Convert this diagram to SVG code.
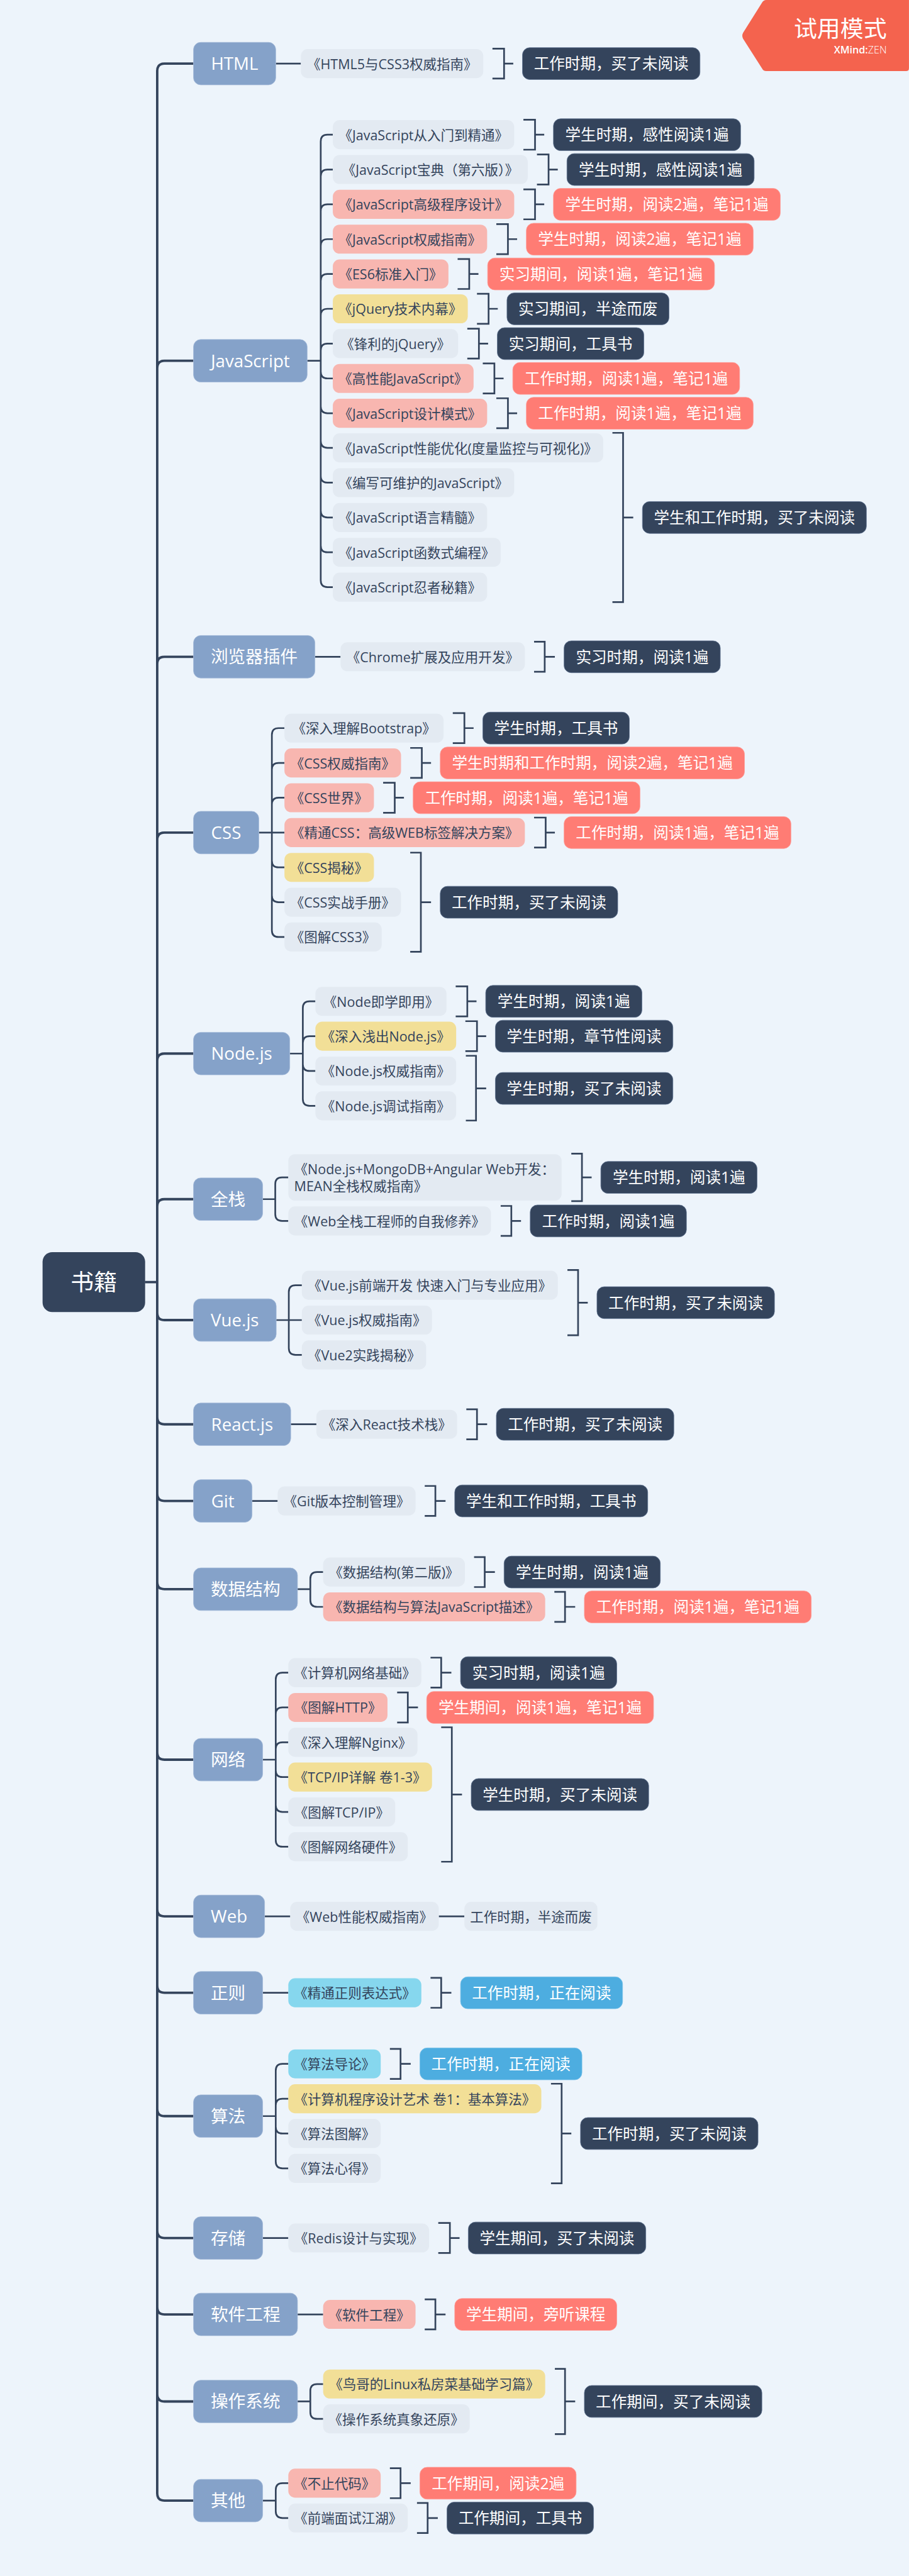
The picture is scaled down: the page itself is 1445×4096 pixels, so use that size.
<svg xmlns="http://www.w3.org/2000/svg" width="1445" height="4096" viewBox="0 0 1445 4096">
<style>
text{font-family:"Open Sans","Noto Sans CJK SC","Noto Sans",sans-serif;text-anchor:middle}
.m{fill:#85A2C9;stroke:#A3BAD9;stroke-width:1}
.b{fill:#E3EAF2}.p{fill:#F8B6B0}.y{fill:#F2DF97}.c{fill:#86D7EE}
.d{fill:#34445C;stroke:#5F7391;stroke-width:1}.r{fill:#FF7C74;stroke:#FF9C96;stroke-width:1}.l{fill:#4DADE0;stroke:#79C2EA;stroke-width:1}
.tm{font-size:36px;fill:#fff}.tb{font-size:28px;fill:#34445C;transform:translateY(1px)}.ts{font-size:32px;fill:#fff;transform:translateY(1px)}
.sp{fill:none;stroke:#34445C;stroke-width:5}.cn{fill:none;stroke:#34445C;stroke-width:3.5}.br{fill:none;stroke:#34445C;stroke-width:3.5}
</style>
<rect width="1445" height="4096" fill="#EDF4FB"/>
<g transform="scale(0.769)">
<g id="connectors">
<path class="sp" d="M299.5,2651H325M325,146.5V5155.5M325,146.5q0-15 15-15H400M325,761q0-15 15-15H400M325,1373q0-15 15-15H400M325,1736.5q0-15 15-15H400M325,2193.5q0-15 15-15H400M325,2494.5q0-15 15-15H400M325,2714.5q0,15 15,15H400M325,2930q0,15 15,15H400M325,3088.5q0,15 15,15H400M325,3271q0,15 15,15H400M325,3623.5q0,15 15,15H400M325,3947.5q0,15 15,15H400M325,4105.5q0,15 15,15H400M325,4360.5q0,15 15,15H400M325,4612.5q0,15 15,15H400M325,4770.5q0,15 15,15H400M325,4950.5q0,15 15,15H400M325,5155.5q0,15 15,15H400"/>
<path class="cn" d="M570,131.5H622"/>
<path class="cn" d="M635,746H663M663,292.5V1200M663,292.5q0-14 14-14H688M663,364.5q0-14 14-14H688M663,436.5q0-14 14-14H688M663,508.5q0-14 14-14H688M663,580.5q0-14 14-14H688M663,652.5q0-14 14-14H688M663,724.5q0-14 14-14H688M663,768.5q0,14 14,14H688M663,840.5q0,14 14,14H688M663,912q0,14 14,14H688M663,984q0,14 14,14H688M663,1056q0,14 14,14H688M663,1128q0,14 14,14H688M663,1200q0,14 14,14H688"/>
<path class="cn" d="M651,1358H704"/>
<path class="cn" d="M535,1721.5H588M562,1519.5V1923.5M562,1519.5q0-14 14-14H588M562,1591.5q0-14 14-14H588M562,1663.5q0-14 14-14H588M562,1779.5q0,14 14,14H588M562,1851.5q0,14 14,14H588M562,1923.5q0,14 14,14H588"/>
<path class="cn" d="M599,2178.5H626M626,2084.5V2272.5M626,2084.5q0-14 14-14H652M626,2156.5q0-14 14-14H652M626,2200.5q0,14 14,14H652M626,2272.5q0,14 14,14H652"/>
<path class="cn" d="M543,2479.5H569M569,2448.5V2510.5M569,2448.5q0-14 14-14H596M569,2510.5q0,14 14,14H596"/>
<path class="cn" d="M571,2729.5H624M597,2671.5V2787.5M597,2671.5q0-14 14-14H624M597,2787.5q0,14 14,14H624"/>
<path class="cn" d="M601,2945H654"/>
<path class="cn" d="M521,3103.5H574"/>
<path class="cn" d="M615,3286H641.5M641.5,3264.5V3308.5M641.5,3264.5q0-14 14-14H668M641.5,3308.5q0,14 14,14H668"/>
<path class="cn" d="M543,3638.5H570M570,3472.5V3804.5M570,3472.5q0-14 14-14H596M570,3544.5q0-14 14-14H596M570,3616.5q0-14 14-14H596M570,3660.5q0,14 14,14H596M570,3732.5q0,14 14,14H596M570,3804.5q0,14 14,14H596"/>
<path class="cn" d="M547,3962.5H600M907,3962.5H960"/>
<path class="cn" d="M543,4120.5H596"/>
<path class="cn" d="M543,4375.5H570M570,4281.5V4469.5M570,4281.5q0-14 14-14H596M570,4353.5q0-14 14-14H596M570,4397.5q0,14 14,14H596M570,4469.5q0,14 14,14H596"/>
<path class="cn" d="M543,4627.5H596"/>
<path class="cn" d="M615,4785.5H668"/>
<path class="cn" d="M615,4965.5H641.5M641.5,4943.5V4987.5M641.5,4943.5q0-14 14-14H668M641.5,4987.5q0,14 14,14H668"/>
<path class="cn" d="M543,5170.5H570M570,5148.5V5192.5M570,5148.5q0-14 14-14H596M570,5192.5q0,14 14,14H596"/>
</g>
<g id="brackets">
<path class="br" d="M1018,100.5H1042V162.5H1018M1042,131.5H1061"/>
<path class="br" d="M1082,247.5H1106V309.5H1082M1106,278.5H1125"/>
<path class="br" d="M1110,319.5H1134V381.5H1110M1134,350.5H1153"/>
<path class="br" d="M1082,391.5H1106V453.5H1082M1106,422.5H1125"/>
<path class="br" d="M1026,463.5H1050V525.5H1026M1050,494.5H1069"/>
<path class="br" d="M946,535.5H970V597.5H946M970,566.5H989"/>
<path class="br" d="M986,607.5H1010V669.5H986M1010,638.5H1029"/>
<path class="br" d="M966,679.5H990V741.5H966M990,710.5H1009"/>
<path class="br" d="M998,751.5H1022V813.5H998M1022,782.5H1041"/>
<path class="br" d="M1026,823.5H1050V885.5H1026M1050,854.5H1069"/>
<path class="br" d="M1266,895H1288V1245H1266M1288,1070H1309"/>
<path class="br" d="M1104,1327H1126V1389H1104M1126,1358H1147"/>
<path class="br" d="M936,1474.5H960V1536.5H936M960,1505.5H979"/>
<path class="br" d="M848,1546.5H872V1608.5H848M872,1577.5H891"/>
<path class="br" d="M792,1618.5H816V1680.5H792M816,1649.5H835"/>
<path class="br" d="M1104,1690.5H1128V1752.5H1104M1128,1721.5H1147"/>
<path class="br" d="M848,1763H870V1968H848M870,1865.5H891"/>
<path class="br" d="M942,2039.5H966V2101.5H942M966,2070.5H985"/>
<path class="br" d="M962,2111.5H986V2173.5H962M986,2142.5H1005"/>
<path class="br" d="M963,2183H984V2317H963M984,2250.5H1005"/>
<path class="br" d="M1181,2385.5H1203V2483.5H1181M1203,2434.5H1223"/>
<path class="br" d="M1035,2493.5H1057V2555.5H1035M1057,2524.5H1077"/>
<path class="br" d="M1173,2626H1195V2761H1173M1195,2693.5H1215"/>
<path class="br" d="M964,2914H986V2976H964M986,2945H1007"/>
<path class="br" d="M878,3072.5H900V3134.5H878M900,3103.5H921"/>
<path class="br" d="M980,3219.5H1002V3281.5H980M1002,3250.5H1023"/>
<path class="br" d="M1146,3291.5H1168V3353.5H1146M1168,3322.5H1189"/>
<path class="br" d="M890,3427.5H912V3489.5H890M912,3458.5H933"/>
<path class="br" d="M821,3499.5H843V3561.5H821M843,3530.5H864"/>
<path class="br" d="M912,3571.5H934V3849.5H912M934,3710.5H955"/>
<path class="br" d="M890,4089.5H912V4151.5H890M912,4120.5H933"/>
<path class="br" d="M806,4236.5H828V4298.5H806M828,4267.5H849"/>
<path class="br" d="M1139,4308.5H1161V4514.5H1139M1161,4411.5H1181"/>
<path class="br" d="M906,4596.5H930V4658.5H906M930,4627.5H950"/>
<path class="br" d="M878,4754.5H900V4816.5H878M900,4785.5H921"/>
<path class="br" d="M1147,4898H1168V5033H1147M1168,4965.5H1189"/>
<path class="br" d="M806,5103.5H828V5165.5H806M828,5134.5H849"/>
<path class="br" d="M862,5175.5H884V5237.5H862M884,5206.5H905"/>
</g>
<g id="root"><rect x="88" y="2589" width="212" height="124" rx="20" fill="#34445C"/><text x="194" y="2668" style="font-size:48px;fill:#fff">书籍</text></g>
<g id="t-html"><rect class="m" x="400" y="87.5" width="170" height="88" rx="15"/><text class="tm" x="485" y="144.5">HTML</text></g>
<g id="b-html"><rect class="b" x="622" y="101.5" width="377" height="60" rx="14"/><text class="tb" x="810.5" y="141.5">《HTML5与CSS3权威指南》</text></g>
<g id="s-html"><rect class="d" x="1080" y="98.5" width="367" height="66" rx="15"/><text class="ts" x="1263.5" y="142.5">工作时期，买了未阅读</text></g>
<g id="t-js"><rect class="m" x="400" y="702" width="235" height="88" rx="15"/><text class="tm" x="517.5" y="759">JavaScript</text></g>
<g id="b-js1"><rect class="b" x="688" y="248.5" width="375" height="60" rx="14"/><text class="tb" x="875.5" y="288.5">《JavaScript从入门到精通》</text></g>
<g id="s-js1"><rect class="d" x="1144" y="245.5" width="387" height="66" rx="15"/><text class="ts" x="1337.5" y="289.5">学生时期，感性阅读1遍</text></g>
<g id="b-js2"><rect class="b" x="688" y="320.5" width="403" height="60" rx="14"/><text class="tb" x="889.5" y="360.5">《JavaScript宝典（第六版）》</text></g>
<g id="s-js2"><rect class="d" x="1172" y="317.5" width="387" height="66" rx="15"/><text class="ts" x="1365.5" y="361.5">学生时期，感性阅读1遍</text></g>
<g id="b-js3"><rect class="p" x="688" y="392.5" width="375" height="60" rx="14"/><text class="tb" x="875.5" y="432.5">《JavaScript高级程序设计》</text></g>
<g id="s-js3"><rect class="r" x="1144" y="389.5" width="469" height="66" rx="15"/><text class="ts" x="1378.5" y="433.5">学生时期，阅读2遍，笔记1遍</text></g>
<g id="b-js4"><rect class="p" x="688" y="464.5" width="319" height="60" rx="14"/><text class="tb" x="847.5" y="504.5">《JavaScript权威指南》</text></g>
<g id="s-js4"><rect class="r" x="1088" y="461.5" width="469" height="66" rx="15"/><text class="ts" x="1322.5" y="505.5">学生时期，阅读2遍，笔记1遍</text></g>
<g id="b-js5"><rect class="p" x="688" y="536.5" width="239" height="60" rx="14"/><text class="tb" x="807.5" y="576.5">《ES6标准入门》</text></g>
<g id="s-js5"><rect class="r" x="1008" y="533.5" width="469" height="66" rx="15"/><text class="ts" x="1242.5" y="577.5">实习期间，阅读1遍，笔记1遍</text></g>
<g id="b-js6"><rect class="y" x="688" y="608.5" width="279" height="60" rx="14"/><text class="tb" x="827.5" y="648.5">《jQuery技术内幕》</text></g>
<g id="s-js6"><rect class="d" x="1048" y="605.5" width="335" height="66" rx="15"/><text class="ts" x="1215.5" y="649.5">实习期间，半途而废</text></g>
<g id="b-js7"><rect class="b" x="688" y="680.5" width="259" height="60" rx="14"/><text class="tb" x="817.5" y="720.5">《锋利的jQuery》</text></g>
<g id="s-js7"><rect class="d" x="1028" y="677.5" width="303" height="66" rx="15"/><text class="ts" x="1179.5" y="721.5">实习期间，工具书</text></g>
<g id="b-js8"><rect class="p" x="688" y="752.5" width="291" height="60" rx="14"/><text class="tb" x="833.5" y="792.5">《高性能JavaScript》</text></g>
<g id="s-js8"><rect class="r" x="1060" y="749.5" width="469" height="66" rx="15"/><text class="ts" x="1294.5" y="793.5">工作时期，阅读1遍，笔记1遍</text></g>
<g id="b-js9"><rect class="p" x="688" y="824.5" width="319" height="60" rx="14"/><text class="tb" x="847.5" y="864.5">《JavaScript设计模式》</text></g>
<g id="s-js9"><rect class="r" x="1088" y="821.5" width="469" height="66" rx="15"/><text class="ts" x="1322.5" y="865.5">工作时期，阅读1遍，笔记1遍</text></g>
<g id="b-js10"><rect class="b" x="688" y="896" width="559" height="60" rx="14"/><text class="tb" x="967.5" y="936">《JavaScript性能优化(度量监控与可视化)》</text></g>
<g id="b-js11"><rect class="b" x="688" y="968" width="375" height="60" rx="14"/><text class="tb" x="875.5" y="1008">《编写可维护的JavaScript》</text></g>
<g id="b-js12"><rect class="b" x="688" y="1040" width="319" height="60" rx="14"/><text class="tb" x="847.5" y="1080">《JavaScript语言精髓》</text></g>
<g id="b-js13"><rect class="b" x="688" y="1112" width="347" height="60" rx="14"/><text class="tb" x="861.5" y="1152">《JavaScript函数式编程》</text></g>
<g id="b-js14"><rect class="b" x="688" y="1184" width="319" height="60" rx="14"/><text class="tb" x="847.5" y="1224">《JavaScript忍者秘籍》</text></g>
<g id="s-js10"><rect class="d" x="1328" y="1037" width="463" height="66" rx="15"/><text class="ts" x="1559.5" y="1081">学生和工作时期，买了未阅读</text></g>
<g id="t-ext"><rect class="m" x="400" y="1314" width="251" height="88" rx="15"/><text class="tm" x="525.5" y="1371">浏览器插件</text></g>
<g id="b-ext"><rect class="b" x="704" y="1328" width="381" height="60" rx="14"/><text class="tb" x="894.5" y="1368">《Chrome扩展及应用开发》</text></g>
<g id="s-ext"><rect class="d" x="1166" y="1325" width="323" height="66" rx="15"/><text class="ts" x="1327.5" y="1369">实习时期，阅读1遍</text></g>
<g id="t-css"><rect class="m" x="400" y="1677.5" width="135" height="88" rx="15"/><text class="tm" x="467.5" y="1734.5">CSS</text></g>
<g id="b-css1"><rect class="b" x="588" y="1475.5" width="329" height="60" rx="14"/><text class="tb" x="752.5" y="1515.5">《深入理解Bootstrap》</text></g>
<g id="s-css1"><rect class="d" x="998" y="1472.5" width="303" height="66" rx="15"/><text class="ts" x="1149.5" y="1516.5">学生时期，工具书</text></g>
<g id="b-css2"><rect class="p" x="588" y="1547.5" width="241" height="60" rx="14"/><text class="tb" x="708.5" y="1587.5">《CSS权威指南》</text></g>
<g id="s-css2"><rect class="r" x="910" y="1544.5" width="629" height="66" rx="15"/><text class="ts" x="1224.5" y="1588.5">学生时期和工作时期，阅读2遍，笔记1遍</text></g>
<g id="b-css3"><rect class="p" x="588" y="1619.5" width="185" height="60" rx="14"/><text class="tb" x="680.5" y="1659.5">《CSS世界》</text></g>
<g id="s-css3"><rect class="r" x="854" y="1616.5" width="469" height="66" rx="15"/><text class="ts" x="1088.5" y="1660.5">工作时期，阅读1遍，笔记1遍</text></g>
<g id="b-css4"><rect class="p" x="588" y="1691.5" width="497" height="60" rx="14"/><text class="tb" x="836.5" y="1731.5">《精通CSS：高级WEB标签解决方案》</text></g>
<g id="s-css4"><rect class="r" x="1166" y="1688.5" width="469" height="66" rx="15"/><text class="ts" x="1400.5" y="1732.5">工作时期，阅读1遍，笔记1遍</text></g>
<g id="b-css5"><rect class="y" x="588" y="1763.5" width="185" height="60" rx="14"/><text class="tb" x="680.5" y="1803.5">《CSS揭秘》</text></g>
<g id="b-css6"><rect class="b" x="588" y="1835.5" width="241" height="60" rx="14"/><text class="tb" x="708.5" y="1875.5">《CSS实战手册》</text></g>
<g id="b-css7"><rect class="b" x="588" y="1907.5" width="201" height="60" rx="14"/><text class="tb" x="688.5" y="1947.5">《图解CSS3》</text></g>
<g id="s-css5"><rect class="d" x="910" y="1832.5" width="367" height="66" rx="15"/><text class="ts" x="1093.5" y="1876.5">工作时期，买了未阅读</text></g>
<g id="t-node"><rect class="m" x="400" y="2134.5" width="199" height="88" rx="15"/><text class="tm" x="499.5" y="2191.5">Node.js</text></g>
<g id="b-node1"><rect class="b" x="652" y="2040.5" width="271" height="60" rx="14"/><text class="tb" x="787.5" y="2080.5">《Node即学即用》</text></g>
<g id="s-node1"><rect class="d" x="1004" y="2037.5" width="323" height="66" rx="15"/><text class="ts" x="1165.5" y="2081.5">学生时期，阅读1遍</text></g>
<g id="b-node2"><rect class="y" x="652" y="2112.5" width="291" height="60" rx="14"/><text class="tb" x="797.5" y="2152.5">《深入浅出Node.js》</text></g>
<g id="s-node2"><rect class="d" x="1024" y="2109.5" width="367" height="66" rx="15"/><text class="ts" x="1207.5" y="2153.5">学生时期，章节性阅读</text></g>
<g id="b-node3"><rect class="b" x="652" y="2184.5" width="291" height="60" rx="14"/><text class="tb" x="797.5" y="2224.5">《Node.js权威指南》</text></g>
<g id="b-node4"><rect class="b" x="652" y="2256.5" width="291" height="60" rx="14"/><text class="tb" x="797.5" y="2296.5">《Node.js调试指南》</text></g>
<g id="s-node3"><rect class="d" x="1024" y="2217.5" width="367" height="66" rx="15"/><text class="ts" x="1207.5" y="2261.5">学生时期，买了未阅读</text></g>
<g id="t-full"><rect class="m" x="400" y="2435.5" width="143" height="88" rx="15"/><text class="tm" x="471.5" y="2492.5">全栈</text></g>
<g id="b-full1"><rect class="b" x="596" y="2386.5" width="565" height="96" rx="14"/><text class="tb" style="text-anchor:start" x="608" y="2427">《Node.js+MongoDB+Angular Web开发：</text><text class="tb" style="text-anchor:start" x="608" y="2462.5">MEAN全栈权威指南》</text></g>
<g id="s-full1"><rect class="d" x="1242" y="2401.5" width="323" height="66" rx="15"/><text class="ts" x="1403.5" y="2445.5">学生时期，阅读1遍</text></g>
<g id="b-full2"><rect class="b" x="596" y="2494.5" width="419" height="60" rx="14"/><text class="tb" x="805.5" y="2534.5">《Web全栈工程师的自我修养》</text></g>
<g id="s-full2"><rect class="d" x="1096" y="2491.5" width="323" height="66" rx="15"/><text class="ts" x="1257.5" y="2535.5">工作时期，阅读1遍</text></g>
<g id="t-vue"><rect class="m" x="400" y="2685.5" width="171" height="88" rx="15"/><text class="tm" x="485.5" y="2742.5">Vue.js</text></g>
<g id="b-vue1"><rect class="b" x="624" y="2627.5" width="529" height="60" rx="14"/><text class="tb" x="888.5" y="2667.5">《Vue.js前端开发 快速入门与专业应用》</text></g>
<g id="b-vue2"><rect class="b" x="624" y="2699.5" width="269" height="60" rx="14"/><text class="tb" x="758.5" y="2739.5">《Vue.js权威指南》</text></g>
<g id="b-vue3"><rect class="b" x="624" y="2771.5" width="257" height="60" rx="14"/><text class="tb" x="752.5" y="2811.5">《Vue2实践揭秘》</text></g>
<g id="s-vue"><rect class="d" x="1234" y="2660.5" width="367" height="66" rx="15"/><text class="ts" x="1417.5" y="2704.5">工作时期，买了未阅读</text></g>
<g id="t-react"><rect class="m" x="400" y="2901" width="201" height="88" rx="15"/><text class="tm" x="500.5" y="2958">React.js</text></g>
<g id="b-react"><rect class="b" x="654" y="2915" width="291" height="60" rx="14"/><text class="tb" x="799.5" y="2955">《深入React技术栈》</text></g>
<g id="s-react"><rect class="d" x="1026" y="2912" width="367" height="66" rx="15"/><text class="ts" x="1209.5" y="2956">工作时期，买了未阅读</text></g>
<g id="t-git"><rect class="m" x="400" y="3059.5" width="121" height="88" rx="15"/><text class="tm" x="460.5" y="3116.5">Git</text></g>
<g id="b-git"><rect class="b" x="574" y="3073.5" width="285" height="60" rx="14"/><text class="tb" x="716.5" y="3113.5">《Git版本控制管理》</text></g>
<g id="s-git"><rect class="d" x="940" y="3070.5" width="399" height="66" rx="15"/><text class="ts" x="1139.5" y="3114.5">学生和工作时期，工具书</text></g>
<g id="t-ds"><rect class="m" x="400" y="3242" width="215" height="88" rx="15"/><text class="tm" x="507.5" y="3299">数据结构</text></g>
<g id="b-ds1"><rect class="b" x="668" y="3220.5" width="293" height="60" rx="14"/><text class="tb" x="814.5" y="3260.5">《数据结构(第二版)》</text></g>
<g id="s-ds1"><rect class="d" x="1042" y="3217.5" width="323" height="66" rx="15"/><text class="ts" x="1203.5" y="3261.5">学生时期，阅读1遍</text></g>
<g id="b-ds2"><rect class="p" x="668" y="3292.5" width="459" height="60" rx="14"/><text class="tb" x="897.5" y="3332.5">《数据结构与算法JavaScript描述》</text></g>
<g id="s-ds2"><rect class="r" x="1208" y="3289.5" width="469" height="66" rx="15"/><text class="ts" x="1442.5" y="3333.5">工作时期，阅读1遍，笔记1遍</text></g>
<g id="t-net"><rect class="m" x="400" y="3594.5" width="143" height="88" rx="15"/><text class="tm" x="471.5" y="3651.5">网络</text></g>
<g id="b-net1"><rect class="b" x="596" y="3428.5" width="275" height="60" rx="14"/><text class="tb" x="733.5" y="3468.5">《计算机网络基础》</text></g>
<g id="s-net1"><rect class="d" x="952" y="3425.5" width="323" height="66" rx="15"/><text class="ts" x="1113.5" y="3469.5">实习时期，阅读1遍</text></g>
<g id="b-net2"><rect class="p" x="596" y="3500.5" width="205" height="60" rx="14"/><text class="tb" x="698.5" y="3540.5">《图解HTTP》</text></g>
<g id="s-net2"><rect class="r" x="882" y="3497.5" width="469" height="66" rx="15"/><text class="ts" x="1116.5" y="3541.5">学生期间，阅读1遍，笔记1遍</text></g>
<g id="b-net3"><rect class="b" x="596" y="3572.5" width="267" height="60" rx="14"/><text class="tb" x="729.5" y="3612.5">《深入理解Nginx》</text></g>
<g id="b-net4"><rect class="y" x="596" y="3644.5" width="297" height="60" rx="14"/><text class="tb" x="744.5" y="3684.5">《TCP/IP详解 卷1-3》</text></g>
<g id="b-net5"><rect class="b" x="596" y="3716.5" width="221" height="60" rx="14"/><text class="tb" x="706.5" y="3756.5">《图解TCP/IP》</text></g>
<g id="b-net6"><rect class="b" x="596" y="3788.5" width="247" height="60" rx="14"/><text class="tb" x="719.5" y="3828.5">《图解网络硬件》</text></g>
<g id="s-net3"><rect class="d" x="974" y="3677.5" width="367" height="66" rx="15"/><text class="ts" x="1157.5" y="3721.5">学生时期，买了未阅读</text></g>
<g id="t-web"><rect class="m" x="400" y="3918.5" width="147" height="88" rx="15"/><text class="tm" x="473.5" y="3975.5">Web</text></g>
<g id="b-web"><rect class="b" x="600" y="3932.5" width="307" height="60" rx="14"/><text class="tb" x="753.5" y="3972.5">《Web性能权威指南》</text></g>
<g id="s-web"><rect class="b" x="960" y="3932.5" width="275" height="60" rx="14"/><text class="tb" x="1097.5" y="3972.5">工作时期，半途而废</text></g>
<g id="t-re"><rect class="m" x="400" y="4076.5" width="143" height="88" rx="15"/><text class="tm" x="471.5" y="4133.5">正则</text></g>
<g id="b-re"><rect class="c" x="596" y="4090.5" width="275" height="60" rx="14"/><text class="tb" x="733.5" y="4130.5">《精通正则表达式》</text></g>
<g id="s-re"><rect class="l" x="952" y="4087.5" width="335" height="66" rx="15"/><text class="ts" x="1119.5" y="4131.5">工作时期，正在阅读</text></g>
<g id="t-algo"><rect class="m" x="400" y="4331.5" width="143" height="88" rx="15"/><text class="tm" x="471.5" y="4388.5">算法</text></g>
<g id="b-algo1"><rect class="c" x="596" y="4237.5" width="191" height="60" rx="14"/><text class="tb" x="691.5" y="4277.5">《算法导论》</text></g>
<g id="s-algo1"><rect class="l" x="868" y="4234.5" width="335" height="66" rx="15"/><text class="ts" x="1035.5" y="4278.5">工作时期，正在阅读</text></g>
<g id="b-algo2"><rect class="y" x="596" y="4309.5" width="523" height="60" rx="14"/><text class="tb" x="857.5" y="4349.5">《计算机程序设计艺术 卷1：基本算法》</text></g>
<g id="b-algo3"><rect class="b" x="596" y="4381.5" width="191" height="60" rx="14"/><text class="tb" x="691.5" y="4421.5">《算法图解》</text></g>
<g id="b-algo4"><rect class="b" x="596" y="4453.5" width="191" height="60" rx="14"/><text class="tb" x="691.5" y="4493.5">《算法心得》</text></g>
<g id="s-algo2"><rect class="d" x="1200" y="4378.5" width="367" height="66" rx="15"/><text class="ts" x="1383.5" y="4422.5">工作时期，买了未阅读</text></g>
<g id="t-store"><rect class="m" x="400" y="4583.5" width="143" height="88" rx="15"/><text class="tm" x="471.5" y="4640.5">存储</text></g>
<g id="b-store"><rect class="b" x="596" y="4597.5" width="291" height="60" rx="14"/><text class="tb" x="741.5" y="4637.5">《Redis设计与实现》</text></g>
<g id="s-store"><rect class="d" x="968" y="4594.5" width="367" height="66" rx="15"/><text class="ts" x="1151.5" y="4638.5">学生期间，买了未阅读</text></g>
<g id="t-se"><rect class="m" x="400" y="4741.5" width="215" height="88" rx="15"/><text class="tm" x="507.5" y="4798.5">软件工程</text></g>
<g id="b-se"><rect class="p" x="668" y="4755.5" width="191" height="60" rx="14"/><text class="tb" x="763.5" y="4795.5">《软件工程》</text></g>
<g id="s-se"><rect class="r" x="940" y="4752.5" width="335" height="66" rx="15"/><text class="ts" x="1107.5" y="4796.5">学生期间，旁听课程</text></g>
<g id="t-os"><rect class="m" x="400" y="4921.5" width="215" height="88" rx="15"/><text class="tm" x="507.5" y="4978.5">操作系统</text></g>
<g id="b-os1"><rect class="y" x="668" y="4899.5" width="459" height="60" rx="14"/><text class="tb" x="897.5" y="4939.5">《鸟哥的Linux私房菜基础学习篇》</text></g>
<g id="b-os2"><rect class="b" x="668" y="4971.5" width="303" height="60" rx="14"/><text class="tb" x="819.5" y="5011.5">《操作系统真象还原》</text></g>
<g id="s-os"><rect class="d" x="1208" y="4932.5" width="367" height="66" rx="15"/><text class="ts" x="1391.5" y="4976.5">工作期间，买了未阅读</text></g>
<g id="t-other"><rect class="m" x="400" y="5126.5" width="143" height="88" rx="15"/><text class="tm" x="471.5" y="5183.5">其他</text></g>
<g id="b-other1"><rect class="p" x="596" y="5104.5" width="191" height="60" rx="14"/><text class="tb" x="691.5" y="5144.5">《不止代码》</text></g>
<g id="s-other1"><rect class="r" x="868" y="5101.5" width="323" height="66" rx="15"/><text class="ts" x="1029.5" y="5145.5">工作期间，阅读2遍</text></g>
<g id="b-other2"><rect class="b" x="596" y="5176.5" width="247" height="60" rx="14"/><text class="tb" x="719.5" y="5216.5">《前端面试江湖》</text></g>
<g id="s-other2"><rect class="d" x="924" y="5173.5" width="303" height="66" rx="15"/><text class="ts" x="1075.5" y="5217.5">工作期间，工具书</text></g>
<g id="flag"><path fill="#F4634E" d="M1584,0H1879V141Q1879,147 1873,147H1584Q1578,147 1575,141L1536,80Q1533,74 1536,68L1575,6Q1578,0 1584,0Z"/><text x="1833" y="77" style="font-size:48px;fill:#fff;text-anchor:end">试用模式</text><text x="1833" y="111" style="font-size:21px;fill:#fff;text-anchor:end;font-weight:600">XMind:<tspan font-weight="300">ZEN</tspan></text></g>
</g>
</svg>
